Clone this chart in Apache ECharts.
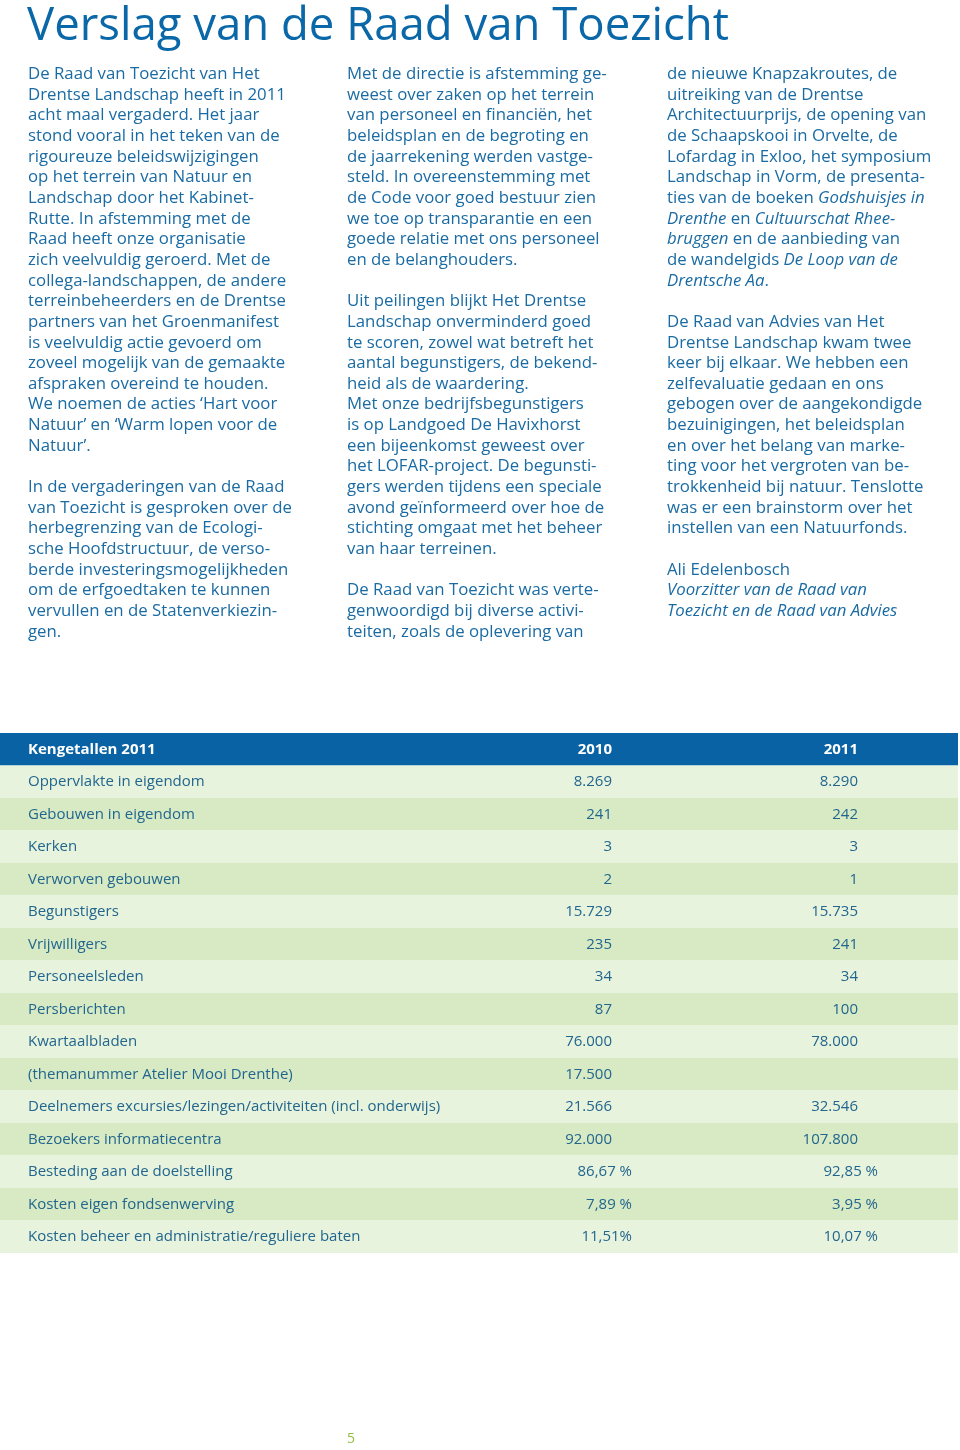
<!DOCTYPE html>
<html><head><meta charset="utf-8">
<script src="https://cdn.jsdelivr.net/npm/echarts@6/dist/echarts.min.js"></script>
<style>html,body{margin:0;padding:0;background:#fff}#c{width:960px;height:1450px}</style>
</head><body><div id="c"></div>
<script>
const pageTitle = 'Verslag van de Raad van Toezicht';
const tableHeader = ['Kengetallen 2011', '2010', '2011'];
const rowLabels = [
  'Oppervlakte in eigendom', 'Gebouwen in eigendom', 'Kerken', 'Verworven gebouwen',
  'Begunstigers', 'Vrijwilligers', 'Personeelsleden', 'Persberichten', 'Kwartaalbladen',
  '(themanummer Atelier Mooi Drenthe)',
  'Deelnemers excursies/lezingen/activiteiten (incl. onderwijs)',
  'Bezoekers informatiecentra', 'Besteding aan de doelstelling',
  'Kosten eigen fondsenwerving', 'Kosten beheer en administratie/reguliere baten'
];
const values2010 = ['8.269', '241', '3', '2', '15.729', '235', '34', '87', '76.000', '17.500', '21.566', '92.000', '86,67 %', '7,89 %', '11,51%'];
const values2011 = ['8.290', '242', '3', '1', '15.735', '241', '34', '100', '78.000', '', '32.546', '107.800', '92,85 %', '3,95 %', '10,07 %'];
const column1 = [
  'De Raad van Toezicht van Het', 'Drentse Landschap heeft in 2011', 'acht maal vergaderd. Het jaar',
  'stond vooral in het teken van de', 'rigoureuze beleidswijzigingen', 'op het terrein van Natuur en',
  'Landschap door het Kabinet-', 'Rutte. In afstemming met de', 'Raad heeft onze organisatie',
  'zich veelvuldig geroerd. Met de', 'collega-landschappen, de andere', 'terreinbeheerders en de Drentse',
  'partners van het Groenmanifest', 'is veelvuldig actie gevoerd om', 'zoveel mogelijk van de gemaakte',
  'afspraken overeind te houden.', 'We noemen de acties ‘Hart voor', 'Natuur’ en ‘Warm lopen voor de',
  'Natuur’.', '', 'In de vergaderingen van de Raad', 'van Toezicht is gesproken over de',
  'herbegrenzing van de Ecologi-', 'sche Hoofdstructuur, de verso-', 'berde investeringsmogelijkheden',
  'om de erfgoedtaken te kunnen', 'vervullen en de Statenverkiezin-', 'gen.'
];
const column2 = [
  'Met de directie is afstemming ge-', 'weest over zaken op het terrein', 'van personeel en financiën, het',
  'beleidsplan en de begroting en', 'de jaarrekening werden vastge-', 'steld. In overeenstemming met',
  'de Code voor goed bestuur zien', 'we toe op transparantie en een', 'goede relatie met ons personeel',
  'en de belanghouders.', '', 'Uit peilingen blijkt Het Drentse', 'Landschap onverminderd goed',
  'te scoren, zowel wat betreft het', 'aantal begunstigers, de bekend-', 'heid als de waardering.',
  'Met onze bedrijfsbegunstigers', 'is op Landgoed De Havixhorst', 'een bijeenkomst geweest over',
  'het LOFAR-project. De begunsti-', 'gers werden tijdens een speciale', 'avond geïnformeerd over hoe de',
  'stichting omgaat met het beheer', 'van haar terreinen.', '', 'De Raad van Toezicht was verte-',
  'genwoordigd bij diverse activi-', 'teiten, zoals de oplevering van'
];
const column3 = [
  'de nieuwe Knapzakroutes, de', 'uitreiking van de Drentse', 'Architectuurprijs, de opening van',
  'de Schaapskooi in Orvelte, de', 'Lofardag in Exloo, het symposium', 'Landschap in Vorm, de presenta-',
  'ties van de boeken {i|Godshuisjes in}', '{i|Drenthe} en {i|Cultuurschat Rhee-}',
  '{i|bruggen} en de aanbieding van', 'de wandelgids {i|De Loop van de}', '{i|Drentsche Aa}.', '',
  'De Raad van Advies van Het', 'Drentse Landschap kwam twee', 'keer bij elkaar. We hebben een',
  'zelfevaluatie gedaan en ons', 'gebogen over de aangekondigde', 'bezuinigingen, het beleidsplan',
  'en over het belang van marke-', 'ting voor het vergroten van be-', 'trokkenheid bij natuur. Tenslotte',
  'was er een brainstorm over het', 'instellen van een Natuurfonds.', '', 'Ali Edelenbosch',
  '{i|Voorzitter van de Raad van}', '{i|Toezicht en de Raad van Advies}'
];
const pageNumber = '5';

const FONT = "'Open Sans', 'Noto Sans', sans-serif";
const BLUE_TEXT = '#1a6ba3';
const TITLE_BLUE = '#0a67a8';
const HEAD_BLUE = '#0862a4';
const TABLE_TEXT = '#22668e';
const ROW_LIGHT = '#e8f3dd';
const ROW_DARK = '#d7eac4';

const allLabels = [tableHeader[0]].concat(rowLabels);
const allA = [tableHeader[1]].concat(values2010);
const allB = [tableHeader[2]].concat(values2011);

function colText(lines, x) {
  const base = { fontSize: 16.8, fontFamily: FONT, fill: BLUE_TEXT, lineHeight: 20.65 };
  return {
    type: 'text', left: x, top: 64,
    style: Object.assign({}, base, {
      text: lines.join('\n'),
      rich: { i: Object.assign({}, base, { fontStyle: 'italic' }) }
    })
  };
}

const chart = echarts.init(document.getElementById('c'), null, { renderer: 'canvas' });
chart.setOption({
  animation: false,
  backgroundColor: '#ffffff',
  grid: { left: 0, top: 733, width: 958, height: 520, containLabel: false },
  xAxis: { type: 'value', min: 0, max: 958, show: false },
  yAxis: { type: 'category', data: allLabels, inverse: true, show: false },
  graphic: [
    { type: 'text', left: 27, top: 4, style: { text: pageTitle, fontSize: 45.5, fontFamily: FONT, fill: TITLE_BLUE } },
    colText(column1, 28), colText(column2, 347), colText(column3, 667),
    { type: 'text', left: 347, top: 1432, style: { text: pageNumber, fontSize: 14, fontFamily: FONT, fill: '#93bd45' } }
  ],
  series: [{
    type: 'custom',
    clip: false,
    data: allLabels.map((_, i) => [0, i]),
    encode: { x: 0, y: 1 },
    renderItem: function (params, api) {
      const i = params.dataIndex;
      const p0 = api.coord([0, api.value(1)]);
      const p1 = api.coord([958, api.value(1)]);
      const h = api.size([0, 1])[1];
      const head = i === 0;
      const fill = head ? HEAD_BLUE : (i % 2 === 1 ? ROW_LIGHT : ROW_DARK);
      const color = head ? '#ffffff' : TABLE_TEXT;
      const weight = head ? 'bold' : 'normal';
      const ts = (t, x, align) => ({
        type: 'text', x: x, y: p0[1],
        style: { text: t, fontSize: 15, fontFamily: FONT, fontWeight: weight, fill: color, align: align, verticalAlign: 'middle' }
      });
      const pct = s => /%$/.test(s);
      const a = allA[i], b = allB[i];
      return {
        type: 'group',
        children: [
          { type: 'rect', shape: { x: p0[0], y: p0[1] - h / 2, width: p1[0] - p0[0], height: h }, style: { fill: fill } },
          ts(allLabels[i], api.coord([28, 0])[0], 'left'),
          ts(a, api.coord([pct(a) ? 632 : 612, 0])[0], 'right'),
          ts(b, api.coord([pct(b) ? 878 : 858, 0])[0], 'right')
        ]
      };
    }
  }]
});
</script>
</body></html>
